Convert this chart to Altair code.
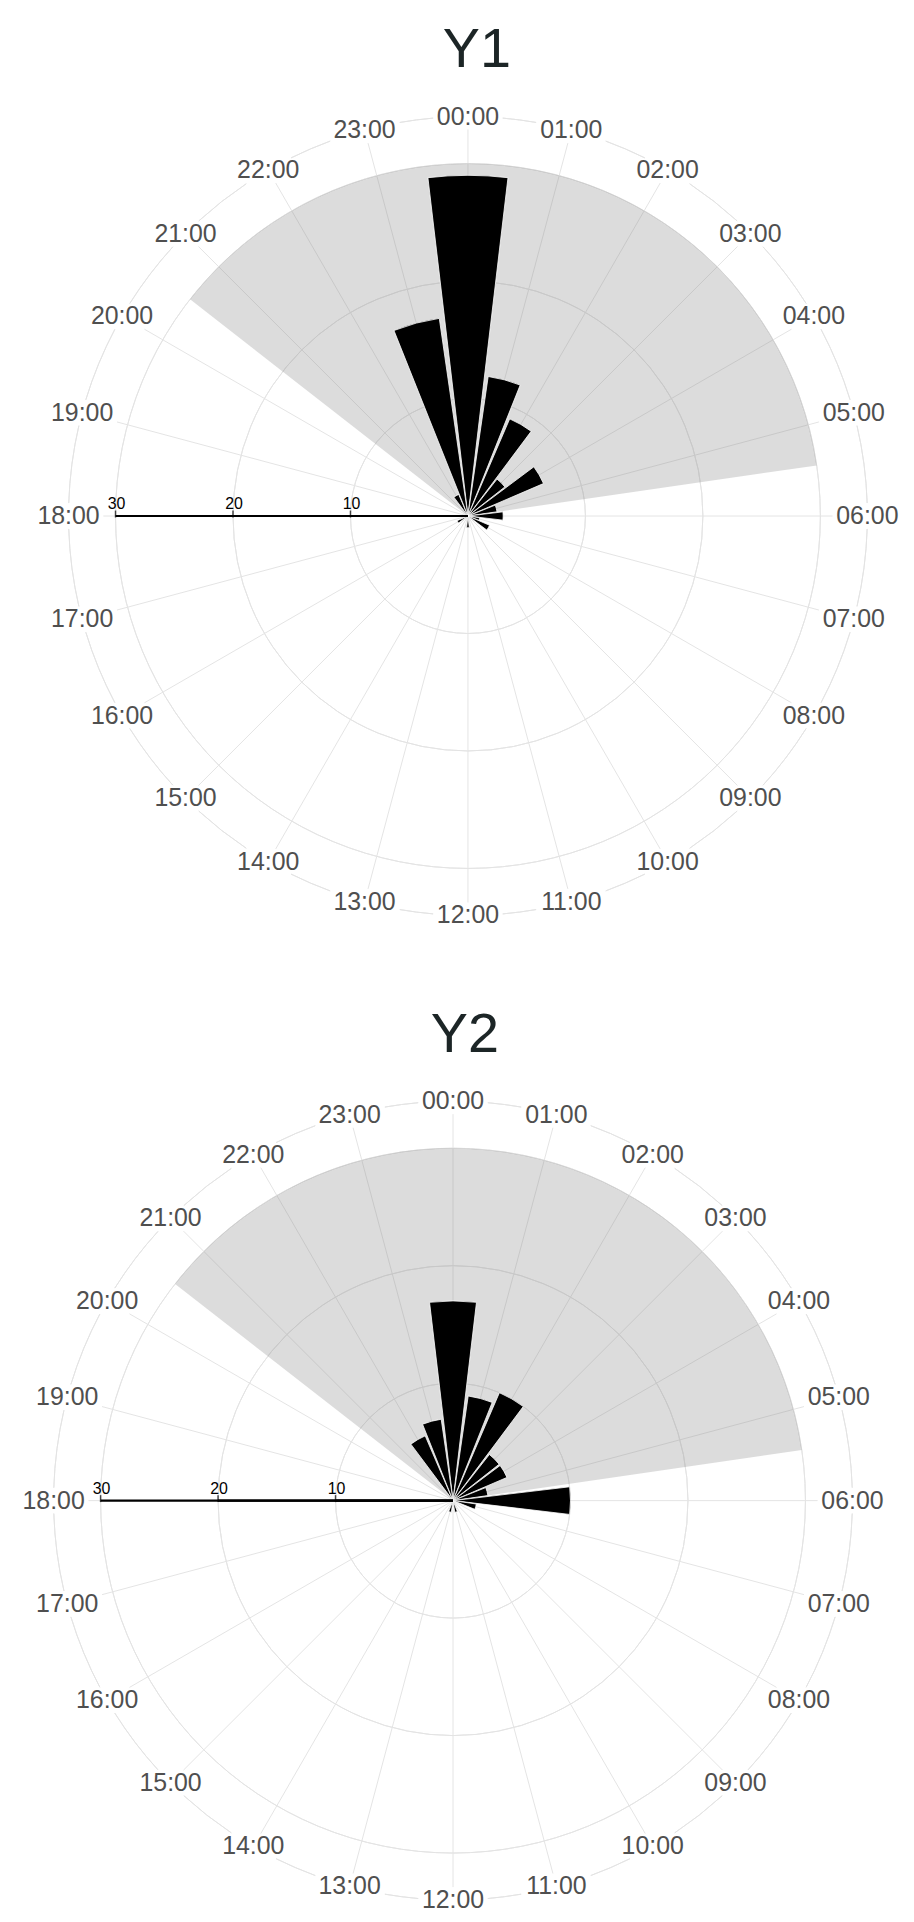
import math
import altair as alt
import pandas as pd

# ---------------- data ----------------
hours = list(range(24))
hour_labels = [f"{h:02d}:00" for h in hours]
y1_counts = [29, 12, 9, 4, 7, 2.5, 3, 1, 2, 0, 0, 0, 1, 0, 0, 0, 1, 0, 0, 0, 0, 0, 2, 17]
y2_counts = [17, 9, 10, 5, 5, 3, 10, 2, 0, 0, 0, 1, 0, 1, 0, 0, 0, 0, 1, 0, 0, 0, 6, 7]
radial_ticks = [10, 20, 30]
grid_rings = [10, 20, 30]
outer_ring = 34
night_start = 20.53   # hour
night_end = 5.45      # hour
night_radius = 30

# ---------------- layout / style ----------------
K = 11.8            # px per radial unit
W = 880             # plot width
H = 840             # plot height
FONT = "Liberation Sans"
GRID = "#e4e4e4"
OUTER_PX = outer_ring * K
LABEL_HALF_W = 35   # half box of an hour label, px (for masking grid lines)
LABEL_HALF_H = 13


def panel(title, counts, title_dx):
    xs = alt.Scale(domain=[-W / 2 / K, W / 2 / K], nice=False, zero=False)
    ys = alt.Scale(domain=[-H / 2 / K, H / 2 / K], nice=False, zero=False)
    ts = alt.Scale(domain=[0, 24], range=[0, 2 * math.pi], nice=False, zero=False)
    rs = alt.Scale(type="linear", domain=[0, 30], range=[0, 30 * K], nice=False)

    hours_df = pd.DataFrame({"hour": hours, "label": hour_labels})
    bars_df = pd.DataFrame({"hour": hours, "count": counts})
    rings_df = pd.DataFrame({"ring": grid_rings})
    night_df = pd.DataFrame({"start": [night_start], "end": [night_end], "r": [night_radius]})
    ticks_df = pd.DataFrame({"tick": radial_ticks})

    # concentric rings
    rings = (
        alt.Chart(rings_df)
        .transform_calculate(t0="0", t1="24")
        .mark_arc(fill="transparent", stroke=GRID, strokeWidth=1)
        .encode(
            theta=alt.Theta("t0:Q", scale=ts, stack=False),
            theta2="t1:Q",
            radius=alt.Radius("ring:Q", scale=rs),
            radius2="ring:Q",
        )
    )

    # outer ring, interrupted behind the hour labels
    outer = (
        alt.Chart(hours_df)
        .transform_calculate(
            p0="datum.hour * PI / 12",
            p1="(datum.hour + 1) * PI / 12",
        )
        .transform_calculate(
            g0=f"min({LABEL_HALF_W} / (abs(cos(datum.p0)) + 1e-9), {LABEL_HALF_H} / (abs(sin(datum.p0)) + 1e-9)) / {OUTER_PX} * 12 / PI",
            g1=f"min({LABEL_HALF_W} / (abs(cos(datum.p1)) + 1e-9), {LABEL_HALF_H} / (abs(sin(datum.p1)) + 1e-9)) / {OUTER_PX} * 12 / PI",
        )
        .transform_calculate(a0="datum.hour + datum.g0", a1="datum.hour + 1 - datum.g1", r=f"{outer_ring}")
        .mark_arc(fill="transparent", stroke=GRID, strokeWidth=1)
        .encode(
            theta=alt.Theta("a0:Q", scale=ts, stack=False),
            theta2="a1:Q",
            radius=alt.Radius("r:Q", scale=rs),
            radius2="r:Q",
        )
    )

    # spokes, stopping short of the labels
    spokes = (
        alt.Chart(hours_df)
        .transform_calculate(p="datum.hour * PI / 12")
        .transform_calculate(
            r=f"({OUTER_PX} - min({LABEL_HALF_H} / (abs(cos(datum.p)) + 1e-9), {LABEL_HALF_W} / (abs(sin(datum.p)) + 1e-9))) / {K}"
        )
        .transform_calculate(
            x0="0", y0="0",
            x1="datum.r * sin(datum.p)", y1="datum.r * cos(datum.p)",
        )
        .mark_rule(color=GRID, strokeWidth=1)
        .encode(
            x=alt.X("x0:Q", scale=xs, axis=None),
            y=alt.Y("y0:Q", scale=ys, axis=None),
            x2="x1:Q",
            y2="y1:Q",
        )
    )

    night = (
        alt.Chart(night_df)
        .transform_calculate(e="datum.end + 24")
        .mark_arc(fill="#808080", opacity=0.28)
        .encode(
            theta=alt.Theta("start:Q", scale=ts, stack=False),
            theta2="e:Q",
            radius=alt.Radius("r:Q", scale=rs),
        )
    )

    bars = (
        alt.Chart(bars_df)
        .transform_filter("datum.count > 0")
        .transform_calculate(t0="datum.hour - 0.45", t1="datum.hour + 0.45")
        .mark_arc(fill="black", stroke="white", strokeWidth=0.8)
        .encode(
            theta=alt.Theta("t0:Q", scale=ts, stack=False),
            theta2="t1:Q",
            radius=alt.Radius("count:Q", scale=rs),
        )
    )

    axis_base = alt.Chart(ticks_df).transform_calculate(neg="-datum.tick", zero="0")
    axis_line = axis_base.mark_rule(color="black", strokeWidth=2.2).encode(
        x=alt.X("neg:Q", scale=xs, axis=None),
        x2="zero:Q",
        y=alt.Y("zero:Q", scale=ys, axis=None),
    )
    axis_ticks = axis_base.mark_tick(orient="vertical", size=7, thickness=1.5, color="black", yOffset=-2).encode(
        x=alt.X("neg:Q", scale=xs, axis=None),
        y=alt.Y("zero:Q", scale=ys, axis=None),
    )
    axis_text = axis_base.mark_text(dy=-12, dx=1, fontSize=16, font=FONT, color="black").encode(
        x=alt.X("neg:Q", scale=xs, axis=None),
        y=alt.Y("zero:Q", scale=ys, axis=None),
        text=alt.Text("tick:Q"),
    )

    labels = (
        alt.Chart(hours_df)
        .transform_calculate(p="datum.hour * PI / 12")
        .transform_calculate(lx=f"{outer_ring} * sin(datum.p)", ly=f"{outer_ring} * cos(datum.p)")
        .mark_text(font=FONT, fontSize=25, color="#4f4f4f", align="center", baseline="middle")
        .encode(
            x=alt.X("lx:Q", scale=xs, axis=None),
            y=alt.Y("ly:Q", scale=ys, axis=None),
            text="label:N",
        )
    )

    return alt.layer(
        rings, outer, spokes, night, bars, axis_line, axis_ticks, axis_text, labels
    ).properties(
        width=W,
        height=H,
        title=alt.TitleParams(
            text=title, fontSize=56, font=FONT, fontWeight="normal", color="#1c2526",
            anchor="middle", dx=title_dx, offset=19,
        ),
    )


p1 = panel("Y1", y1_counts, 9)
p2 = panel("Y2", y2_counts, 12)

# invisible spacer: the first dial sits a little to the right of the second
spacer = alt.Chart(pd.DataFrame({"v": [0]})).mark_point(opacity=0).properties(width=15, height=1)
row1 = alt.hconcat(spacer, p1, spacing=0)

chart = (
    alt.vconcat(row1, p2, spacing=73)
    .resolve_scale(x="independent", y="independent", theta="independent", radius="independent")
    .properties(padding={"left": 7, "right": 0, "top": 10, "bottom": 0}, background="white")
    .configure_view(stroke=None)
)

chart.save("out.html", embed_options={"renderer": "svg", "actions": False})
